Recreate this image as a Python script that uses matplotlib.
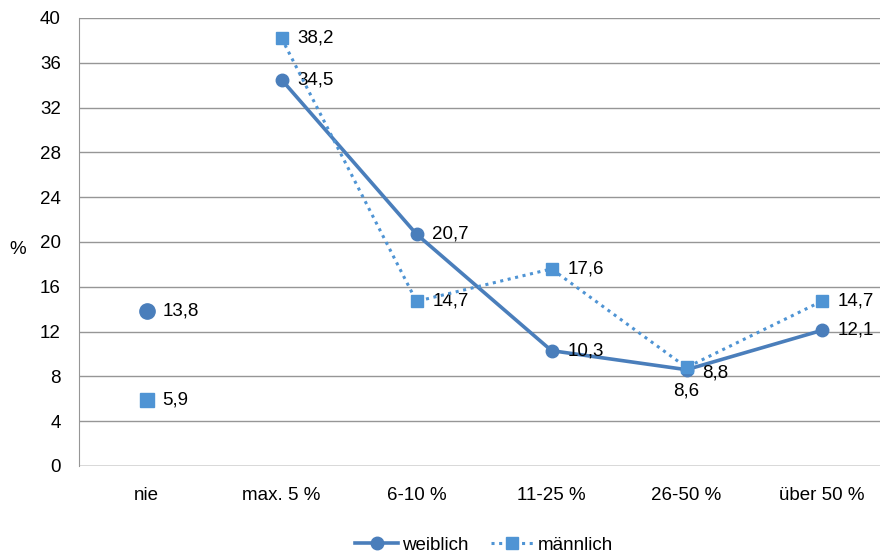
import matplotlib.pyplot as plt
import numpy as np

categories = ["nie", "max. 5 %", "6-10 %", "11-25 %", "26-50 %", "über 50 %"]
weiblich = [13.8, 34.5, 20.7, 10.3, 8.6, 12.1]
maennlich = [5.9, 38.2, 14.7, 17.6, 8.8, 14.7]
yticks = list(range(0, 41, 4))

c_w = "#4A7EBB"
c_m = "#4F94D4"
fs = 13.5

plt.rcParams['font.family'] = ['Liberation Sans', 'DejaVu Sans']

fig = plt.figure(figsize=(8.8, 5.57), dpi=100)
ax = fig.add_axes([79 / 880, 1 - 466 / 557, 1 - 79 / 880, (466 - 18) / 557])

x = np.arange(len(categories))

# "nie" is not connected to the rest
ax.plot(x[1:], weiblich[1:], color=c_w, lw=2.6, marker="o", ms=9, zorder=3,
        label="weiblich")
ax.plot(x[:1], weiblich[:1], color=c_w, lw=0, marker="o", ms=11, zorder=3)
ax.plot(x[1:], maennlich[1:], color=c_m, lw=2.2, ls=(0, (1, 1.5)), marker="s", ms=8.5,
        zorder=4, label="männlich")
ax.plot(x[:1], maennlich[:1], color=c_m, lw=0, marker="s", ms=10, zorder=4)

def fmt(v):
    return f"{v:.1f}".replace(".", ",")

for i, v in enumerate(weiblich):
    if i == 4:
        ax.annotate(fmt(v), (x[i], v), xytext=(0, -9), textcoords="offset points",
                    ha="center", va="top", fontsize=fs)
    else:
        ax.annotate(fmt(v), (x[i], v), xytext=(11.5, 0), textcoords="offset points",
                    ha="left", va="center", fontsize=fs)
for i, v in enumerate(maennlich):
    dy = -4 if i == 4 else 0
    ax.annotate(fmt(v), (x[i], v), xytext=(11.5, dy), textcoords="offset points",
                ha="left", va="center", fontsize=fs)

ax.set_ylim(0, 40)
ax.set_yticks(yticks)
ax.set_xlim(-0.5, -0.5 + 801 / 135)
ax.set_xticks(x)
ax.set_xticklabels(categories)
ax.tick_params(axis="both", length=0, labelsize=fs, colors="#000000")
ax.tick_params(axis="x", pad=15)
ax.tick_params(axis="y", pad=13)
ax.grid(axis="y", color="#969696", lw=1)
ax.set_axisbelow(True)
for s in ["top", "right", "bottom"]:
    ax.spines[s].set_visible(False)
ax.spines["left"].set_color("#969696")
ax.axhline(0, color="#969696", lw=1, zorder=1)

fig.text(18 / 880, 1 - 250 / 557, "%", fontsize=fs, ha="center", va="center")

fig.legend(loc="center", bbox_to_anchor=(484 / 880, 1 - 545 / 557), ncol=2,
           frameon=False, fontsize=fs, handlelength=2.3, columnspacing=1.2,
           handletextpad=0.2)

fig.savefig("out.png", dpi=100)
